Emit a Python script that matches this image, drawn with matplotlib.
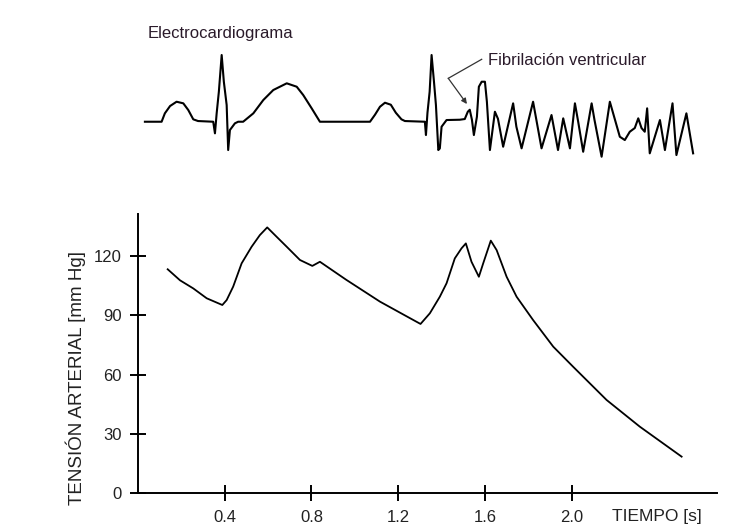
import numpy as np
import matplotlib.pyplot as plt

plt.rcParams['font.family'] = ['Liberation Sans', 'DejaVu Sans']

# Arterial pressure curve (time in s, pressure in mm Hg)
bp_time = [0.137, 0.194, 0.255, 0.317, 0.389, 0.409, 0.439, 0.478, 0.524,
           0.562, 0.596, 0.639, 0.686, 0.747, 0.804, 0.839, 0.960, 1.116,
           1.230, 1.303, 1.346, 1.392, 1.423, 1.461, 1.492, 1.512, 1.538,
           1.572, 1.592, 1.627, 1.654, 1.700, 1.746, 1.822, 1.915, 2.007,
           2.161, 2.314, 2.507]
bp_value = [113.3, 107.7, 103.6, 98.6, 95.2, 97.7, 104.5, 116.3, 124.7,
            130.6, 134.5, 129.8, 124.7, 118.0, 115.0, 117.1, 108.0, 96.9,
            90.0, 85.6, 91.0, 99.4, 106.2, 118.8, 123.9, 126.4, 117.1,
            109.5, 116.3, 127.8, 123.0, 109.5, 99.4, 87.6, 74.1, 63.9,
            47.1, 33.6, 18.4]

# ECG trace (same time axis, arbitrary amplitude)
ecg_time = [0.032, 0.109, 0.124, 0.148, 0.178, 0.209, 0.232, 0.255, 0.277,
            0.347, 0.355, 0.363, 0.373, 0.386, 0.396, 0.409, 0.416, 0.424,
            0.447, 0.462, 0.485, 0.532, 0.578, 0.624, 0.686, 0.732, 0.762,
            0.801, 0.839, 1.070, 1.093, 1.116, 1.139, 1.166, 1.189, 1.215,
            1.231, 1.323, 1.328, 1.335, 1.345, 1.354, 1.365, 1.374, 1.385,
            1.392, 1.400, 1.423, 1.484, 1.507, 1.521, 1.530, 1.540, 1.549,
            1.563, 1.572, 1.585, 1.600, 1.609, 1.623, 1.646, 1.660, 1.684,
            1.730, 1.745, 1.769, 1.822, 1.861, 1.907, 1.937, 1.961, 1.992,
            2.015, 2.030, 2.053, 2.092, 2.105, 2.138, 2.176, 2.222, 2.245,
            2.268, 2.291, 2.307, 2.322, 2.337, 2.348, 2.360, 2.407, 2.430,
            2.465, 2.483, 2.529, 2.560]
ecg_value = [0, 0, 0.84, 1.57, 2.0, 1.84, 1.17, 0.24, 0.07,
             0, -1.16, 0.87, 3.0, 6.67, 4.0, 1.67, -2.83, -0.83,
             -0.16, 0, 0, 0.84, 2.17, 3.17, 3.84, 3.5, 2.67,
             1.34, 0, 0, 0.7, 1.5, 1.9, 1.7, 0.9, 0.24,
             0.07, 0, -1.33, 0.9, 3.0, 6.67, 4.0, 1.67, -2.83,
             -2.67, -0.5, 0.17, 0.2, 0.27, 1.0, 1.2, 0.2, -1.33,
             0.5, 3.5, 4.0, 4.0, 2.0, -2.83, 1.0, 0.3, -2.5,
             1.84, -0.5, -2.66, 2.0, -2.66, 0.67, -2.83, 0.34, -2.66,
             1.84, 0.0, -3.0, 1.84, 0.2, -3.5, 2.0, -1.5, -1.83,
             -1.0, -0.63, 0.34, -0.63, -1.0, 1.34, -3.16, 0.17, -2.83,
             1.84, -3.33, 0.84, -3.16]

x_ticks = [0.4, 0.8, 1.2, 1.6, 2.0]
x_ticklabels = ['0.4', '0.8', '1.2', '1.6', '2.0']
y_ticks = [0, 30, 60, 90, 120]

fig = plt.figure(figsize=(7.47, 5.29), dpi=100)

# bottom: pressure
ax = fig.add_axes([0.1847, 0.0681, 0.7751, 0.5274])
ax.plot(bp_time, bp_value, color='black', lw=1.3)
ax.set_xlim(0, 2.67)
ax.set_ylim(0, 141.3)
for s in ['top', 'right']:
    ax.spines[s].set_visible(False)
for s in ['left', 'bottom']:
    ax.spines[s].set_linewidth(1.4)
ax.set_xticks(x_ticks)
ax.set_xticklabels(x_ticklabels)
ax.set_yticks(y_ticks)
ax.tick_params(direction='inout', length=11, width=1.4, labelsize=12,
               labelcolor='#222222')
ax.tick_params(axis='x', pad=7)
ax.tick_params(axis='y', pad=6)
fig.text(0.1013, 0.2854, 'TENSIÓN ARTERIAL [mm Hg]', rotation=90,
         fontsize=13.5, color='#222222', ha='center', va='center')
ax.text(0.896, -0.086, 'TIEMPO [s]', transform=ax.transAxes, fontsize=12.5,
        color='#222222', ha='center', va='center')

# top: ECG
ex = fig.add_axes([0.1847, 0.688, 0.7751, 0.2742])
ex.plot(ecg_time, ecg_value, color='black', lw=1.5)
ex.set_xlim(0, 2.67)
ex.set_ylim(-4.33, 10.17)
ex.axis('off')
ex.text(0.046, 8.84, 'Electrocardiograma', fontsize=12, color='#2a1a2a',
        va='center', ha='left')
ex.text(1.614, 6.17, 'Fibrilación ventricular', fontsize=12, color='#2a1a2a',
        va='center', ha='left')
ex.plot([1.585, 1.431], [6.24, 4.34], color='#333333', lw=0.9)
ex.annotate('', xy=(1.517, 1.77), xytext=(1.431, 4.34),
            arrowprops=dict(arrowstyle='-|>', color='#333333', lw=0.9,
                            mutation_scale=8, shrinkA=0, shrinkB=0))

fig.savefig('out.png', dpi=100, facecolor='white')
